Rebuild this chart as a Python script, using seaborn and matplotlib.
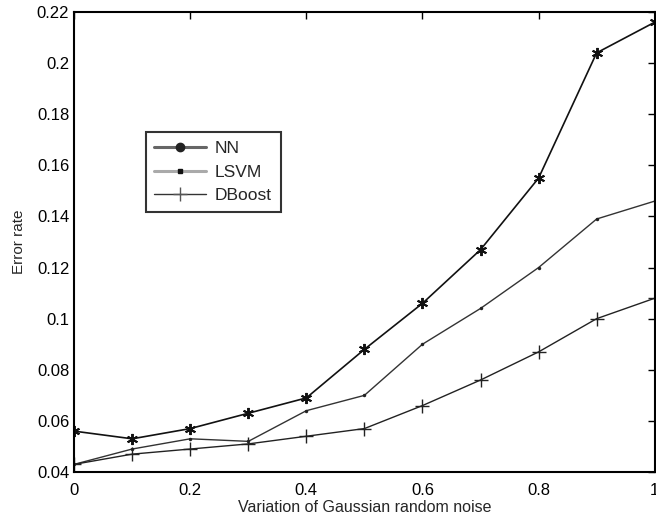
import numpy as np
import pandas as pd
import matplotlib
matplotlib.use("Agg")
import matplotlib.pyplot as plt
from matplotlib.lines import Line2D
import seaborn as sns

noise = [0.0, 0.1, 0.2, 0.3, 0.4, 0.5, 0.6, 0.7, 0.8, 0.9, 1.0]
nn_err = [0.056, 0.053, 0.057, 0.063, 0.069, 0.088, 0.106, 0.127, 0.155, 0.204, 0.216]
lsvm_err = [0.043, 0.049, 0.053, 0.052, 0.064, 0.070, 0.090, 0.104, 0.120, 0.139, 0.146]
dboost_err = [0.043, 0.047, 0.049, 0.051, 0.054, 0.057, 0.066, 0.076, 0.087, 0.100, 0.108]

x_ticks = [0, 0.2, 0.4, 0.6, 0.8, 1]
x_ticklabels = ["0", "0.2", "0.4", "0.6", "0.8", "1"]
y_ticks = [0.04, 0.06, 0.08, 0.1, 0.12, 0.14, 0.16, 0.18, 0.2, 0.22]
y_ticklabels = ["0.04", "0.06", "0.08", "0.1", "0.12", "0.14", "0.16", "0.18", "0.2", "0.22"]

sns.set_style("white")
plt.rcParams['font.family'] = ['Liberation Sans', 'DejaVu Sans']

fig = plt.figure(figsize=(6.56, 5.21), dpi=100)
ax = fig.add_axes([0.113, 0.094, 0.885, 0.883])

asterisk = (6, 2, 0)
sns.lineplot(x=noise, y=nn_err, ax=ax, color="#111111", lw=1.2,
             marker=asterisk, markersize=8, markeredgewidth=1.4, markeredgecolor="#111111")
sns.lineplot(x=noise, y=lsvm_err, ax=ax, color="#333333", lw=1.0,
             marker="o", markersize=2.5, markeredgewidth=0, markerfacecolor="#222222")
sns.lineplot(x=noise, y=dboost_err, ax=ax, color="#222222", lw=1.0,
             marker="+", markersize=10, markeredgewidth=1.0, markeredgecolor="#222222")

ax.set_xlim(0, 1)
ax.set_ylim(0.04, 0.22)
ax.set_xticks(x_ticks)
ax.set_xticklabels(x_ticklabels)
ax.set_yticks(y_ticks)
ax.set_yticklabels(y_ticklabels)
ax.tick_params(direction="in", top=True, right=True, length=5, width=1,
               labelsize=12, colors="black")
ax.tick_params(axis="x", pad=8)
for s in ax.spines.values():
    s.set_color("black")
    s.set_linewidth(1.5)

ax.set_xlabel("Variation of Gaussian random noise", fontsize=11.5, labelpad=1)
ax.set_ylabel("Error rate", fontsize=11, labelpad=8)

handles = [
    Line2D([], [], color="#666666", lw=2.2, marker="o", markersize=6,
           markerfacecolor="#222222", markeredgecolor="#222222"),
    Line2D([], [], color="#aaaaaa", lw=2.2, marker="s", markersize=3,
           markerfacecolor="#111111", markeredgecolor="#111111"),
    Line2D([], [], color="#333333", lw=1.0, marker="+", markersize=10,
           markeredgecolor="#555555"),
]
leg = ax.legend(handles, ["NN", "LSVM", "DBoost"], loc="upper left",
                bbox_to_anchor=(0.108, 0.758), fontsize=12.5, frameon=True,
                fancybox=False, edgecolor="black", handlelength=3.0,
                borderpad=0.5, labelspacing=0.5, handletextpad=0.5)
leg.get_frame().set_linewidth(1.5)

fig.savefig("out.png", dpi=100)
